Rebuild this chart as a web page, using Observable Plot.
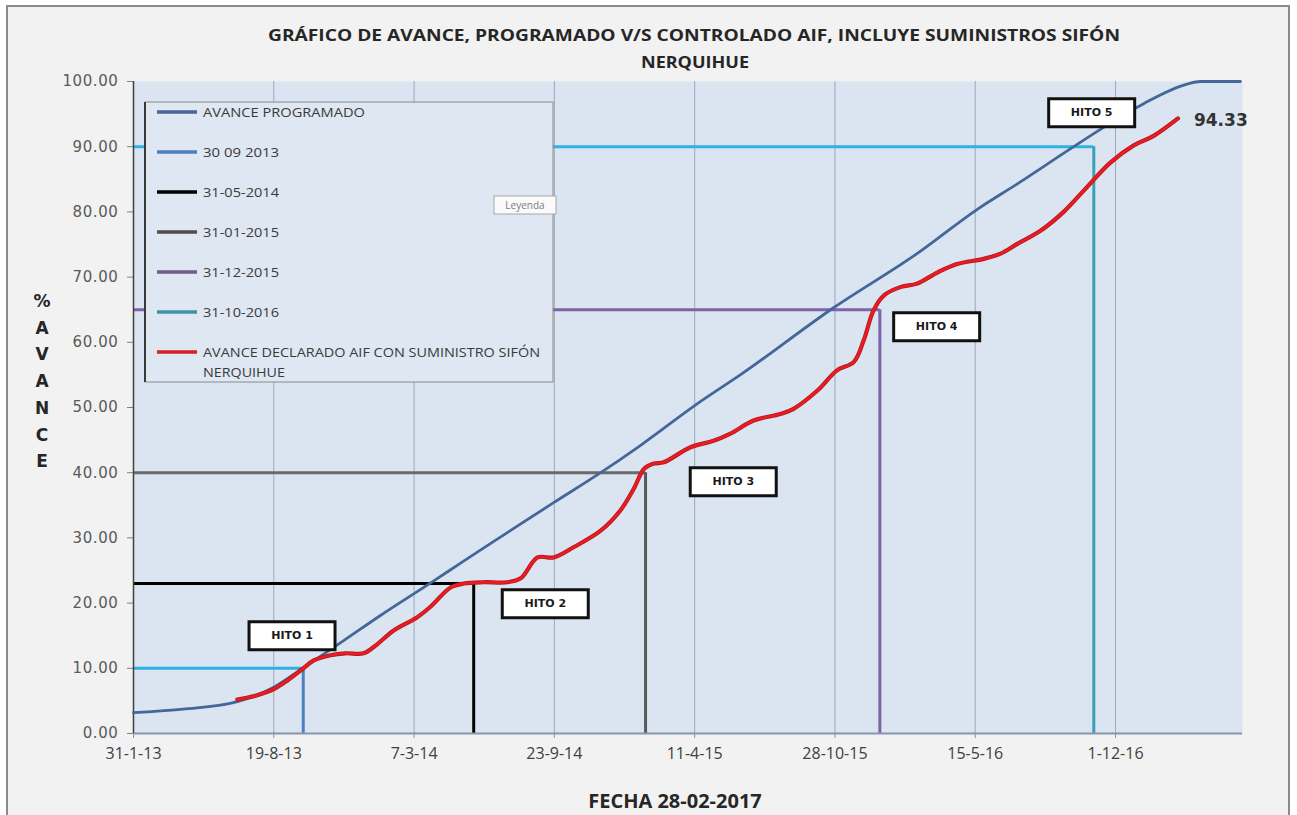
<!DOCTYPE html>
<html><head><meta charset="utf-8">
<script src="https://cdn.jsdelivr.net/npm/d3@7"></script>
<script src="https://cdn.jsdelivr.net/npm/@observablehq/plot@0.6"></script>
<style>
html,body{margin:0;padding:0;background:#fff;}
#wrap{position:relative;width:1297px;height:815px;overflow:hidden;background:#fff;}
#frame{position:absolute;left:6px;top:5px;width:1284px;height:840px;border:2px solid #8c8c8c;background:#f2f2f2;box-sizing:border-box;}
#chart{position:absolute;left:0;top:0;}
#overlay{position:absolute;left:0;top:0;pointer-events:none;}
</style></head>
<body><div id="wrap"><div id="frame"></div><div id="chart"></div><svg id="overlay" width="1297" height="815"></svg></div>
<script>
// ---------------- DATA ----------------
const titulo1 = "GRÁFICO DE AVANCE, PROGRAMADO V/S CONTROLADO AIF, INCLUYE SUMINISTROS SIFÓN";
const titulo2 = "NERQUIHUE";
const ejeX = "FECHA 28-02-2017";
const ejeY = ["%", "A", "V", "A", "N", "C", "E"];
const xDomain = ["2013-01-31", "2017-05-31"];
const xTickLabels = ["31-1-13", "19-8-13", "7-3-14", "23-9-14", "11-4-15", "28-10-15", "15-5-16", "1-12-16"];
const yTicks = [0, 10, 20, 30, 40, 50, 60, 70, 80, 90, 100];

const programadoFechas = ["2013-01-31","2013-04-08","2013-06-28","2013-08-19","2013-09-29","2013-11-26","2014-01-18","2014-04-04","2014-05-16","2014-09-22","2014-11-28","2015-01-24","2015-04-19","2015-06-15","2015-10-26","2016-02-22","2016-05-18","2016-07-14","2016-09-28","2016-11-10","2017-01-10","2017-03-13","2017-04-01","2017-05-28"];
const programadoValores = [3.2, 3.7, 4.9, 7.1, 10.0, 14.2, 18.1, 23.4, 26.4, 35.4, 40.0, 44.2, 50.9, 55.0, 65.3, 73.6, 80.4, 84.3, 89.7, 92.7, 96.6, 99.6, 100, 100];

const declaradoFechas = ["2013-06-28","2013-07-24","2013-08-19","2013-09-07","2013-09-29","2013-10-15","2013-11-08","2013-11-29","2013-12-25","2014-01-09","2014-02-06","2014-03-11","2014-03-30","2014-04-28","2014-05-17","2014-06-14","2014-07-18","2014-08-06","2014-08-30","2014-09-22","2014-10-21","2014-11-28","2014-12-26","2015-01-14","2015-01-29","2015-02-12","2015-02-26","2015-04-05","2015-05-08","2015-06-01","2015-07-04","2015-08-11","2015-08-30","2015-10-03","2015-10-31","2015-11-24","2015-12-08","2015-12-22","2016-01-06","2016-01-30","2016-02-22","2016-03-22","2016-04-19","2016-05-27","2016-06-20","2016-07-14","2016-08-16","2016-09-18","2016-10-17","2016-11-24","2016-12-27","2017-01-25","2017-02-28"];
const declaradoValores = [5.2, 5.8, 6.8, 8.1, 9.9, 11.2, 12.0, 12.3, 12.3, 13.3, 15.8, 17.8, 19.4, 22.4, 23.0, 23.2, 23.2, 23.8, 27.0, 27.0, 28.6, 31.1, 34.2, 37.5, 40.6, 41.4, 41.6, 43.9, 44.9, 46.0, 48.0, 49.0, 49.8, 52.6, 55.7, 57.0, 60.3, 64.9, 67.2, 68.5, 69.0, 70.7, 72.0, 72.8, 73.6, 75.1, 77.1, 80.0, 83.3, 87.6, 90.2, 91.7, 94.33];
const valorFinal = "94.33";

const hitoNombres = ["HITO 1", "HITO 2", "HITO 3", "HITO 4", "HITO 5"];
const hitoFechas = ["2013-09-30", "2014-05-31", "2015-01-31", "2015-12-31", "2016-10-31"];
const hitoValores = [10, 23, 40, 65, 90];
const etiquetaFechas = ["2013-09-14", "2014-09-10", "2015-06-05", "2016-03-21", "2016-10-28"];
const etiquetaValores = [15.0, 19.9, 38.6, 62.4, 95.2];

const leyendaTextos = ["AVANCE PROGRAMADO", "30 09 2013", "31-05-2014", "31-01-2015", "31-12-2015", "31-10-2016", "AVANCE DECLARADO AIF CON SUMINISTRO SIFÓN"];
const leyendaSegundaLinea = "NERQUIHUE";

// ---------------- STYLE ----------------
const colorProgramado = "#44679a";
const colorDeclarado = "#ec1b23";
const hitoColorV = ["#4f7fbc", "#000000", "#595959", "#7e62a6", "#3f9fb8"];
const hitoColorH = ["#2eaee2", "#000000", "#6a6a6a", "#7e62a6", "#2eb2e6"];
const leyendaColores = [colorProgramado, "#4f7fbc", "#000000", "#4d4d4d", "#6e5a8e", "#3f93a6", "#d42020"];

// ---------------- BUILD ----------------
const parseD = d3.utcParse("%Y-%m-%d");
const parseTick = d3.utcParse("%d-%m-%y");
const xMin = parseD(xDomain[0]), xMax = parseD(xDomain[1]);
const tickDates = xTickLabels.map(parseTick);

const programado = programadoFechas.map((f, i) => ({fecha: parseD(f), valor: programadoValores[i]}));
const declarado = declaradoFechas.map((f, i) => ({fecha: parseD(f), valor: declaradoValores[i]}));
const hitos = hitoNombres.map((n, i) => ({
  nombre: n, fecha: parseD(hitoFechas[i]), valor: hitoValores[i], inicio: xMin,
  colorV: hitoColorV[i], colorH: hitoColorH[i],
  ex: parseD(etiquetaFechas[i]), ey: etiquetaValores[i]
}));
const ultimo = declarado[declarado.length - 1];

const boxSymbol = {draw(ctx) { ctx.moveTo(-43, -14); ctx.lineTo(43, -14); ctx.lineTo(43, 14); ctx.lineTo(-43, 14); ctx.closePath(); }};
const fmtTick = d => `${d.getUTCDate()}-${d.getUTCMonth() + 1}-${String(d.getUTCFullYear()).slice(2)}`;

const chart = Plot.plot({
  width: 1297, height: 815,
  marginLeft: 133, marginRight: 55, marginTop: 81, marginBottom: 82,
  style: {background: "transparent", fontFamily: "DejaVu Sans, sans-serif", overflow: "visible"},
  x: {type: "utc", domain: [xMin, xMax]},
  y: {domain: [0, 100]},
  marks: [
    Plot.frame({fill: "#dbe5f1", stroke: null}),
    Plot.gridX(tickDates, {stroke: "#9ea8b8", strokeOpacity: 1, strokeWidth: 1}),
    Plot.axisX(tickDates, {tickFormat: fmtTick, tickSize: 5, tickPadding: 9, fontSize: 16, fontFamily: "Open Sans, sans-serif", color: "#404040", stroke: "#8796ad", label: null}),
    Plot.axisY(yTicks, {tickFormat: d => d.toFixed(2), tickSize: 6, tickPadding: 9, fontSize: 15, color: "#5a5a5a", stroke: "#7f7f7f", label: null}),
    Plot.ruleY(hitos, {y: "valor", x1: "inicio", x2: "fecha", stroke: "colorH", strokeWidth: 3}),
    Plot.ruleX(hitos, {x: "fecha", y1: 0, y2: "valor", stroke: "colorV", strokeWidth: 3}),
    Plot.ruleY([0], {stroke: "#8796ad", strokeWidth: 2}),
    Plot.ruleX([xMin], {stroke: "#404040", strokeWidth: 1.5}),
    Plot.line(programado, {x: "fecha", y: "valor", stroke: colorProgramado, strokeWidth: 2.8, curve: "monotone-x"}),
    Plot.line(declarado, {x: "fecha", y: "valor", stroke: "#b01a1a", strokeWidth: 4.2, curve: "catmull-rom"}),
    Plot.line(declarado, {x: "fecha", y: "valor", stroke: colorDeclarado, strokeWidth: 2.6, curve: "catmull-rom"}),
    Plot.text([ultimo], {x: "fecha", y: "valor", text: () => valorFinal, textAnchor: "start", dx: 16, dy: 2, fontSize: 17, fontWeight: "bold", fill: "#333333"}),
    Plot.dot(hitos, {x: "ex", y: "ey", symbol: boxSymbol, fill: "white", stroke: "#111", strokeWidth: 3, r: 5}),
    Plot.text(hitos, {x: "ex", y: "ey", text: "nombre", fontSize: 11, fontWeight: "bold", fill: "#1a1a1a"})
  ]
});
document.getElementById("chart").append(chart);
d3.select(chart).selectAll('[aria-label="y-axis tick label"] text').attr("letter-spacing", "0.6px");

// ---------------- OVERLAY (titles, legend) ----------------
const ov = d3.select("#overlay");
ov.append("text").attr("x", 694).attr("y", 41).attr("text-anchor", "middle")
  .attr("font-family", "Open Sans, sans-serif").attr("font-weight", "bold").attr("font-size", 16)
  .attr("fill", "#262626").attr("textLength", 852).attr("lengthAdjust", "spacingAndGlyphs").text(titulo1);
ov.append("text").attr("x", 695).attr("y", 68).attr("text-anchor", "middle")
  .attr("font-family", "Open Sans, sans-serif").attr("font-weight", "bold").attr("font-size", 16)
  .attr("fill", "#262626").attr("textLength", 108).attr("lengthAdjust", "spacingAndGlyphs").text(titulo2);
ov.append("text").attr("x", 675).attr("y", 808).attr("text-anchor", "middle")
  .attr("font-family", "Open Sans, sans-serif").attr("font-weight", "bold").attr("font-size", 20)
  .attr("fill", "#262626").text(ejeX);
ejeY.forEach((c, i) => {
  ov.append("text").attr("x", 42).attr("y", 307 + i * 26.7).attr("text-anchor", "middle")
    .attr("font-family", "DejaVu Sans, sans-serif").attr("font-weight", "bold").attr("font-size", 17)
    .attr("fill", "#262626").text(c);
});

// legend
const lg = ov.append("g");
lg.append("rect").attr("x", 145).attr("y", 102).attr("width", 408).attr("height", 280)
  .attr("fill", "#dee7f2").attr("stroke", "#8a8a8a").attr("stroke-width", 1);
lg.append("line").attr("x1", 145).attr("x2", 145).attr("y1", 102).attr("y2", 382).attr("stroke", "#3a3a3a").attr("stroke-width", 2);
const textW = [162, 76, 76, 76, 76, 76, 337];
leyendaTextos.forEach((t, i) => {
  const y = 112 + i * 40;
  lg.append("line").attr("x1", 157).attr("x2", 197).attr("y1", y).attr("y2", y)
    .attr("stroke", leyendaColores[i]).attr("stroke-width", 3.5);
  lg.append("text").attr("x", 203).attr("y", y + 4.5).attr("font-family", "Open Sans, sans-serif")
    .attr("font-size", 12.5).attr("fill", "#3a3a3a").attr("textLength", textW[i]).attr("lengthAdjust", "spacingAndGlyphs").text(t);
});
lg.append("text").attr("x", 203).attr("y", 376.5).attr("font-family", "Open Sans, sans-serif")
  .attr("font-size", 12.5).attr("fill", "#3a3a3a").attr("textLength", 82).attr("lengthAdjust", "spacingAndGlyphs").text(leyendaSegundaLinea);
// "Leyenda" tooltip
lg.append("rect").attr("x", 494).attr("y", 196).attr("width", 62).attr("height", 18)
  .attr("fill", "#fafafa").attr("stroke", "#a8a8a8").attr("stroke-width", 1);
lg.append("text").attr("x", 525).attr("y", 209).attr("text-anchor", "middle").attr("font-family", "Open Sans, sans-serif")
  .attr("font-size", 10).attr("fill", "#7a7a7a").text("Leyenda");
</script>
</body></html>
